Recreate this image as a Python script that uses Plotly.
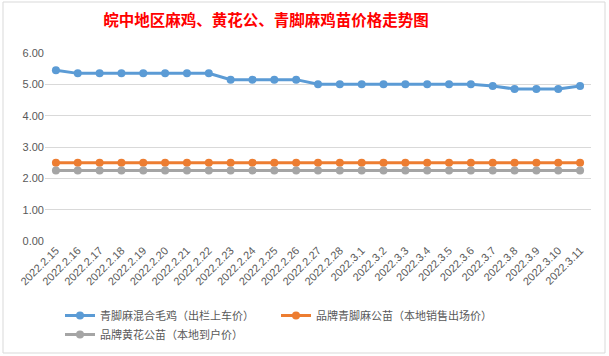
import plotly.graph_objects as go

dates = ["2022.2.15", "2022.2.16", "2022.2.17", "2022.2.18", "2022.2.19", "2022.2.20",
         "2022.2.21", "2022.2.22", "2022.2.23", "2022.2.24", "2022.2.25", "2022.2.26",
         "2022.2.27", "2022.2.28", "2022.3.1", "2022.3.2", "2022.3.3", "2022.3.4",
         "2022.3.5", "2022.3.6", "2022.3.7", "2022.3.8", "2022.3.9", "2022.3.10", "2022.3.11"]

mixed_chicken = [5.45, 5.35, 5.35, 5.35, 5.35, 5.35, 5.35, 5.35, 5.15, 5.15, 5.15, 5.15,
                 5.00, 5.00, 5.00, 5.00, 5.00, 5.00, 5.00, 5.00, 4.95, 4.85, 4.85, 4.85, 4.95]
qingjiao_cock = [2.50] * 25
huanghua_cock = [2.25] * 25

series_names = ["青脚麻混合毛鸡（出栏上车价）", "品牌青脚麻公苗（本地销售出场价）", "品牌黄花公苗（本地到户价）"]
colors = ["#5B9BD5", "#ED7D31", "#A5A5A5"]
y_ticks = [0, 1, 2, 3, 4, 5, 6]

W, H = 609, 356
font_stack = "Liberation Sans, Noto Sans CJK SC, sans-serif"

fig = go.Figure()
for name, vals, c in zip(series_names, [mixed_chicken, qingjiao_cock, huanghua_cock], colors):
    fig.add_trace(go.Scatter(
        x=dates, y=vals, name=name, mode="lines+markers",
        line=dict(color=c, width=3),
        marker=dict(color=c, size=8),
    ))

fig.update_layout(
    width=W, height=H,
    margin=dict(l=45, r=18, t=53, b=115, autoexpand=False),
    paper_bgcolor="white", plot_bgcolor="white",
    font=dict(family=font_stack, size=11, color="#595959"),
    title=dict(
        text="<b>皖中地区麻鸡、黄花公、青脚麻鸡苗价格走势图</b>",
        font=dict(family="Noto Sans CJK SC, sans-serif", size=15.5, color="#FF0000"),
        x=266 / W, xanchor="center", xref="container",
        y=1 - 21 / H, yanchor="middle", yref="container",
    ),
    xaxis=dict(
        type="category", tickangle=-45, showgrid=False, showline=False,
        range=[-0.5, len(dates) - 0.5],
        ticks="", tickfont=dict(size=11, color="#595959"), automargin=False,
    ),
    yaxis=dict(
        range=[0, 6], tickvals=y_ticks, tickformat=".2f",
        showgrid=True, gridcolor="#D9D9D9", gridwidth=1,
        zeroline=False, showline=False, ticks="", automargin=False,
        tickfont=dict(size=11, color="#595959"),
    ),
    legend=dict(
        orientation="h", x=60 / W, xanchor="left", y=1 - 301 / H, yanchor="top",
        yref="container", xref="container", entrywidth=171, entrywidthmode="pixels",
        font=dict(family="Noto Sans CJK SC, sans-serif", size=11, color="#595959"),
        traceorder="normal", itemwidth=30, tracegroupgap=0,
    ),
    showlegend=True,
)

fig.add_shape(type="rect", xref="paper", yref="paper",
              x0=-42 / (W - 63), x1=(605 - 45) / (W - 63),
              y0=-(353 - 241) / (241 - 53), y1=(241 - 2) / (241 - 53),
              line=dict(color="#D9D9D9", width=1), layer="below")

fig.write_html("out.html", config={"displayModeBar": False},
               post_script="document.body.style.margin='0';")
